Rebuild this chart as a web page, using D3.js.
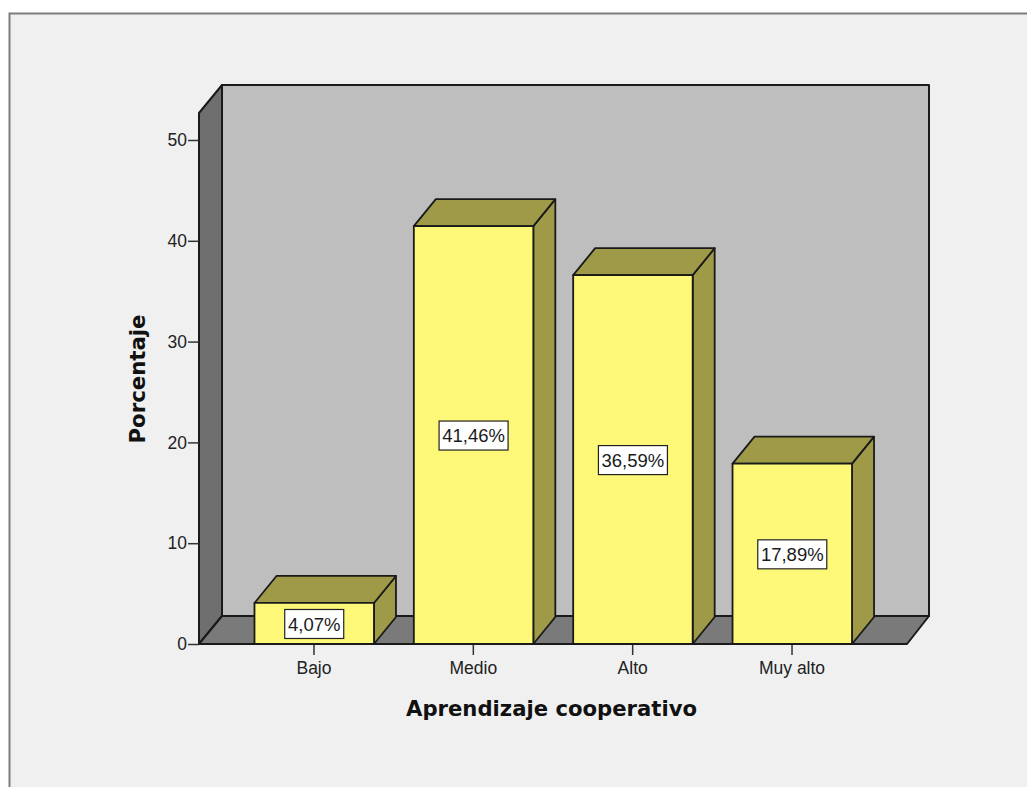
<!DOCTYPE html>
<html><head><meta charset="utf-8">
<script src="https://cdn.jsdelivr.net/npm/d3@7/dist/d3.min.js"></script>
<style>html,body{margin:0;padding:0;background:#fff;overflow:hidden}svg{display:block}</style>
</head><body><svg id="c" width="1027" height="787"></svg>
<script>
const categories = ["Bajo","Medio","Alto","Muy alto"];
const percentages = [4.07,41.46,36.59,17.89];
const percentLabels = ["4,07%","41,46%","36,59%","17,89%"];
const yTicks = [0,10,20,30,40,50];
const xTitle = "Aprendizaje cooperativo";
const yTitle = "Porcentaje";

const svg = d3.select("#c");
const font = "'Liberation Sans',Arial,sans-serif";
const ink = "#1a1a1a";
const plot = {l:199,r:907,b:644,top:113};
const depth = {x:23,y:-28};
const barDepth = {x:22,y:-27};
const y = d3.scaleLinear().domain([0,50]).range([plot.b,140]);
const x = d3.scaleBand().domain(categories).range([234.3,871.7]).paddingInner(.247).paddingOuter(.1235);

// panel
svg.append("rect").attr("x",9.5).attr("y",13.5).attr("width",1030).attr("height",800)
  .attr("fill","#f0f0f0").attr("stroke","#7d7d7d").attr("stroke-width",2);

const poly = (pts,fill,sw=2)=>svg.append("path").attr("d",d3.line()(pts)+"Z")
  .attr("fill",fill).attr("stroke",ink).attr("stroke-width",sw).attr("stroke-linejoin","round");
// back wall, side wall, floor
poly([[plot.l+depth.x,plot.top+depth.y],[plot.r+depth.x-1,plot.top+depth.y],[plot.r+depth.x-1,plot.b+depth.y],[plot.l+depth.x,plot.b+depth.y]],"#bebebe");
poly([[plot.l,plot.top],[plot.l+depth.x,plot.top+depth.y],[plot.l+depth.x,plot.b+depth.y],[plot.l,plot.b]],"#6f6f6f");
poly([[plot.l,plot.b],[plot.l+depth.x,plot.b+depth.y],[plot.r+depth.x-1,plot.b+depth.y],[plot.r,plot.b]],"#7a7a7a");

// axes
const yAxis = svg.append("g").attr("transform",`translate(${plot.l},0)`)
  .call(d3.axisLeft(y).tickValues(yTicks).tickSize(11).tickPadding(1));
const xAxis = svg.append("g").attr("transform",`translate(0,${plot.b})`)
  .call(d3.axisBottom(x).tickSize(11).tickPadding(7));
[yAxis,xAxis].forEach(a=>{
  a.select(".domain").remove();
  a.selectAll("line").attr("stroke","#333").attr("stroke-width",1.5);
  a.selectAll("text").attr("font-family",font).attr("font-size",17.5).attr("fill","#222");
});

// bars
const bars = svg.append("g").selectAll("g").data(categories).join("g");
bars.each(function(c,i){
  const g = d3.select(this), x0=x(c)+.5, x1=x0+x.bandwidth()-.5, t=y(percentages[i]), b=plot.b;
  const p=(pts,fill)=>g.append("path").attr("d",d3.line()(pts)+"Z").attr("fill",fill)
    .attr("stroke",ink).attr("stroke-width",1.8).attr("stroke-linejoin","round");
  p([[x1,t],[x1+barDepth.x,t+barDepth.y],[x1+barDepth.x,b+barDepth.y],[x1,b]],"#9e9a48");
  p([[x0,t],[x0+barDepth.x,t+barDepth.y],[x1+barDepth.x,t+barDepth.y],[x1,t]],"#9e9a48");
  p([[x0,t],[x1,t],[x1,b],[x0,b]],"#fdf877");
  const cx=(x0+x1)/2, cy=(t+b)/2, w=i==0?59:69, h=29;
  g.append("rect").attr("x",cx-w/2).attr("y",cy-h/2+.5).attr("width",w).attr("height",h)
    .attr("fill","#fff").attr("stroke","#222").attr("stroke-width",1.2);
  g.append("text").attr("x",cx).attr("y",cy+.5).attr("dy","0.36em").attr("text-anchor","middle")
    .attr("font-family",font).attr("font-size",18.5).attr("fill","#1a1a1a").text(percentLabels[i]);
});

// titles
svg.append("text").attr("x",551.5).attr("y",716).attr("text-anchor","middle")
  .attr("font-family","'DejaVu Sans',sans-serif").attr("font-weight","bold").attr("font-size",21)
  .attr("textLength",291).attr("lengthAdjust","spacingAndGlyphs").attr("fill","#111").text(xTitle);
svg.append("text").attr("transform","translate(145,379) rotate(-90)").attr("text-anchor","middle")
  .attr("font-family","'DejaVu Sans',sans-serif").attr("font-weight","bold").attr("font-size",21)
  .attr("textLength",129).attr("lengthAdjust","spacingAndGlyphs").attr("fill","#111").text(yTitle);
</script></body></html>
